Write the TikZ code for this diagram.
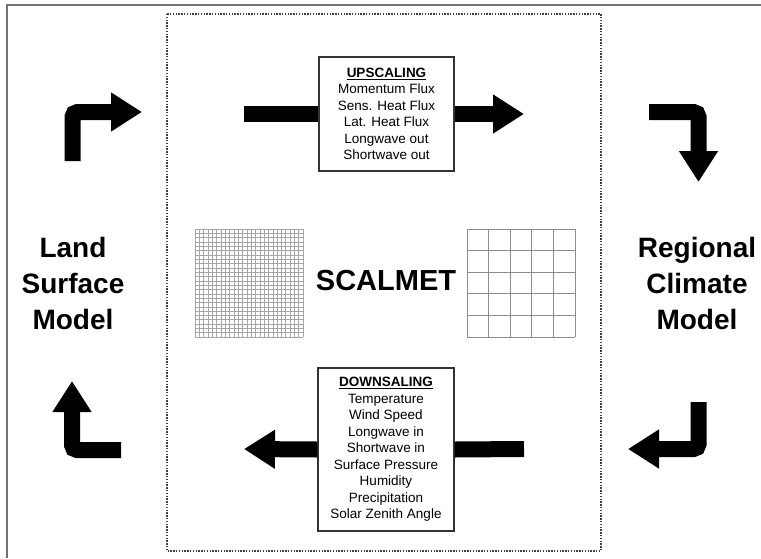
\documentclass[tikz,border=0pt]{standalone}
\usepackage{fontspec}
\setmainfont{Liberation Sans}
\usepackage{tikz}
\usetikzlibrary{arrows.meta}

\begin{document}
\begin{tikzpicture}[x=1pt,y=-1pt,
    bigarrow/.style={line width=16pt,rounded corners=5pt,
      -{Triangle[length=31pt,width=37pt]}},
    bigshaft/.style={line width=16pt},
    listbox/.style={draw=black!80,line width=1.3pt,fill=white,align=center,
      inner sep=0pt,font=\fontsize{13.5}{16.5}\selectfont},
    model/.style={align=center,font=\fontsize{28}{36}\selectfont\bfseries},
    finegrid/.style={black!35,line width=0.5pt},
    coarsegrid/.style={black!45,line width=1pt}]

  \useasboundingbox (0,0) rectangle (761,558);
  \draw[black!55,line width=1.2pt] (761,5) -| (7,558);
  \draw[black!75,line width=1.2pt,dash pattern=on 1.4pt off 1.4pt]
    (167,14) rectangle (601,551);

  \node[model] (lsm) at ( 73,283) {Land\\Surface\\Model};
  \node[model] (rcm) at (697,283) {Regional\\Climate\\Model};
  \node[font=\fontsize{29}{30}\selectfont\bfseries] (scal) at (386,281) {SCALMET};

  \node[listbox,minimum width=135pt,minimum height=114pt] (up) at (386.5,114)
    {\underline{\textbf{UPSCALING}}\\Momentum Flux\\Sens. Heat Flux\\
     Lat. Heat Flux\\Longwave out\\Shortwave out};
  \node[listbox,minimum width=136pt,minimum height=163pt] (down) at (386,449.5)
    {\underline{\textbf{DOWNSALING}}\\Temperature\\Wind Speed\\Longwave in\\
     Shortwave in\\Surface Pressure\\Humidity\\Precipitation\\Solar Zenith Angle};

  \coordinate (upin)    at (244,114);
  \coordinate (upout)   at (524,114);
  \coordinate (downin)  at (524,449);
  \coordinate (downout) at (244,449);
  \coordinate (lsmtop)  at (72.5,161);
  \coordinate (lsmout)  at (142,112);
  \coordinate (rcmin)   at (649,112);
  \coordinate (rcmtop)  at (698.5,182);
  \coordinate (rcmbot)  at (698.5,402);
  \coordinate (rcmout)  at (628,449);
  \coordinate (lsmin)   at (121,450);
  \coordinate (lsmbot)  at (72,381);

  \draw[bigshaft] (upin) -- (up.west);
  \draw[bigarrow] (up.east) -- (upout);
  \draw[bigshaft] (downin) -- (down.east);
  \draw[bigarrow] (down.west) -- (downout);

  \draw[bigarrow] (lsmtop) |- (lsmout);
  \draw[bigarrow] (rcmin) -| (rcmtop);
  \draw[bigarrow] (rcmbot) |- (rcmout);
  \draw[bigarrow] (lsmin) -| (lsmbot);

  \draw[finegrid,shift={(195,337)}] (0pt,0pt) grid[step=4.32pt] (108.1pt,108.1pt);
  \draw[coarsegrid,shift={(467,337)}] (0pt,0pt) grid[step=21.6pt] (108.1pt,108.1pt);
\end{tikzpicture}
\end{document}
